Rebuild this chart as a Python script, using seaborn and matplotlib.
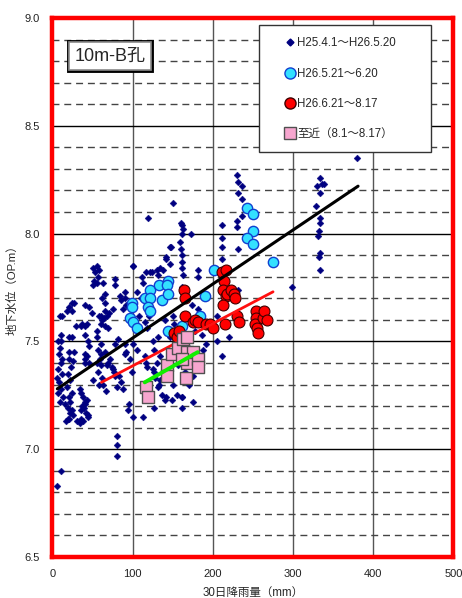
import numpy as np
import pandas as pd
import matplotlib

matplotlib.use("Agg")
import matplotlib.pyplot as plt
import seaborn as sns
from matplotlib.lines import Line2D
from matplotlib.patches import Rectangle
from matplotlib.ticker import MultipleLocator

# H25.4.1～H26.5.20 (navy diamonds)
navy_x = [6, 10, 80, 80, 80, 94, 101, 113, 127, 140, 149, 161,
          17, 19, 21, 22, 24, 26, 31, 34, 36, 38, 39, 41, 43, 44,
          7, 9, 8, 10, 7, 12, 8, 11, 7, 13, 9, 6, 12, 10, 9, 12, 18, 20, 24, 27, 24,
          20, 21, 23, 19, 22, 18, 24, 20, 22, 16, 19, 20, 24, 10, 25, 27,
          29, 35, 41, 37, 43, 40, 45, 49, 41, 44, 46, 43, 45, 40, 40, 40,
          34, 36, 38, 40, 37, 35, 42, 44,
          50, 53, 55, 57, 58, 52, 50, 56, 63, 66, 66, 62, 70, 66, 60, 62, 60, 66, 64, 69,
          55, 58, 68, 55, 60, 57, 61, 59, 55, 60, 68, 57, 62, 58, 63, 67, 50, 66, 72, 75, 69,
          78, 78, 75, 84, 86, 90, 90, 88, 92, 78, 82, 90, 90, 92, 97, 74, 77, 78, 81, 83,
          86, 88, 95, 99, 100, 105, 100, 101,
          111, 113, 116, 119, 121, 124, 130, 131, 134, 138, 142, 146, 146, 148, 150, 142,
          115, 118, 115, 117, 118, 125, 128, 133, 132, 125, 127, 134, 130, 127, 134, 132,
          136, 142, 144, 144, 155, 162, 161, 159, 160, 161, 162, 163, 162, 163, 161, 160,
          162, 161, 162,
          173, 175, 174, 181, 181, 181, 186, 188, 192, 199, 211, 211, 211, 211, 211,
          230, 231, 231, 230, 230, 236, 236, 236, 231, 231,
          299, 329, 333, 336, 339, 334, 334, 334, 332, 331, 333, 332, 334, 380, 330,
          205, 215, 220, 225, 205, 195, 178, 170, 168, 152, 150, 140, 146, 156, 165, 170,
          175, 185, 150, 145, 120, 108, 104, 110, 106]
navy_y = [6.83, 6.90, 7.06, 7.02, 6.97, 7.18, 7.15, 7.15, 7.19, 7.23, 7.23, 7.24,
          7.13, 7.14, 7.14, 7.17, 7.18, 7.16, 7.13, 7.12, 7.14, 7.13, 7.19, 7.21, 7.23, 7.15,
          7.50, 7.47, 7.44, 7.40, 7.37, 7.35, 7.31, 7.28, 7.26, 7.24, 7.22, 7.33, 7.42, 7.53,
          7.62, 7.62, 7.64, 7.66, 7.68, 7.68, 7.64,
          7.45, 7.42, 7.38, 7.35, 7.32, 7.29, 7.26, 7.24, 7.22, 7.21, 7.19, 7.52, 7.52, 7.50,
          7.41, 7.45,
          7.57, 7.57, 7.57, 7.58, 7.58, 7.67, 7.66, 7.63, 7.53, 7.50, 7.48, 7.43, 7.40, 7.44,
          7.42, 7.40,
          7.28, 7.26, 7.24, 7.22, 7.20, 7.18, 7.17, 7.16,
          7.84, 7.82, 7.85, 7.80, 7.83, 7.78, 7.76, 7.77, 7.77, 7.72, 7.68, 7.70, 7.63, 7.64,
          7.62, 7.60, 7.58, 7.57, 7.61, 7.56,
          7.55, 7.62, 7.62, 7.52, 7.49, 7.46, 7.44, 7.42, 7.40, 7.39, 7.39, 7.36, 7.33, 7.30,
          7.30, 7.27, 7.32, 7.45, 7.42, 7.37, 7.40,
          7.79, 7.76, 7.65, 7.71, 7.69, 7.73, 7.70, 7.65, 7.67, 7.49, 7.51, 7.49, 7.44, 7.45,
          7.42, 7.38, 7.36, 7.34, 7.29, 7.34,
          7.31, 7.28, 7.21, 7.36, 7.49, 7.46, 7.85, 7.85,
          7.80, 7.77, 7.82, 8.07, 7.82, 7.82, 7.83, 7.81, 7.84, 7.83, 7.88, 7.86, 7.94, 7.94,
          8.14, 7.89,
          7.59, 7.56, 7.43, 7.40, 7.38, 7.37, 7.33, 7.30, 7.52, 7.50, 7.46, 7.43, 7.40, 7.36,
          7.32, 7.29,
          7.25, 7.24, 7.41, 7.38, 7.25, 7.24, 7.19, 7.96, 7.93, 7.87, 7.84, 7.81, 8.04, 8.02,
          8.00, 8.05,
          7.90, 7.75, 7.73,
          8.00, 7.22, 7.67, 7.65, 7.83, 7.80, 7.53, 7.46, 7.49, 7.56, 8.04, 7.98, 7.94, 7.88,
          7.43,
          8.27, 8.24, 8.19, 8.06, 8.03, 8.08, 8.22, 8.16, 7.93, 7.74,
          7.75, 8.13, 8.26, 8.23, 8.23, 8.19, 8.07, 8.05, 8.01, 7.99, 7.91, 7.89, 7.83, 8.35,
          8.22,
          7.62, 7.66, 7.52, 7.70, 7.50, 7.58, 7.55, 7.60, 7.48, 7.58, 7.62, 7.60, 7.52, 7.39,
          7.36, 7.30,
          7.34, 7.38, 7.30, 7.33, 7.62, 7.62, 7.58, 7.70, 7.73]

# H26.5.21～6.20 (cyan circles)
cyan_x = [99, 99, 97, 100, 105, 115, 121, 121, 119, 121, 133, 136, 144, 143, 144,
          144, 161, 184, 190, 202, 243, 250, 250, 243, 250, 275]
cyan_y = [7.68, 7.66, 7.61, 7.59, 7.56, 7.70, 7.74, 7.70, 7.66, 7.64, 7.76, 7.69, 7.78,
          7.76, 7.72, 7.55, 7.57, 7.62, 7.71, 7.83, 8.12, 8.09, 8.01, 7.98, 7.95, 7.87]

# H26.6.21～8.17 (red circles)
red_x = [152, 155, 158, 164, 165, 165, 175, 178, 181, 192, 196, 200, 211, 216, 214,
         212, 216, 213, 218, 215, 222, 226, 228, 230, 233, 254, 254, 253, 255, 262,
         264, 267, 256]
red_y = [7.54, 7.52, 7.55, 7.74, 7.70, 7.62, 7.59, 7.60, 7.59, 7.58, 7.58, 7.56, 7.82,
         7.83, 7.78, 7.74, 7.71, 7.67, 7.72, 7.58, 7.74, 7.72, 7.70, 7.62, 7.59, 7.64,
         7.61, 7.58, 7.56, 7.61, 7.64, 7.60, 7.54]

# 至近 (8.1～8.17) (pink squares)
pink_x = [117, 119, 143, 143, 149, 156, 163, 168, 168, 168, 166, 175, 181, 181, 161]
pink_y = [7.29, 7.24, 7.39, 7.34, 7.44, 7.47, 7.51, 7.52, 7.45, 7.40, 7.33, 7.45,
          7.42, 7.38, 7.42]

# trend lines (end points)
trend_all_x, trend_all_y = [6, 381], [7.28, 8.22]
trend_red_x, trend_red_y = [61, 275], [7.31, 7.73]
trend_pink_x, trend_pink_y = [115, 181], [7.31, 7.45]

labels = ["H25.4.1～H26.5.20", "H26.5.21～6.20", "H26.6.21～8.17", "至近（8.1～8.17）"]

sns.set_style("white")
plt.rcParams["font.family"] = ["Liberation Sans", "Noto Sans CJK JP", "DejaVu Sans"]

fig = plt.figure(figsize=(4.62, 5.98), dpi=100)
ax = fig.add_axes([0.1136, 0.0686, 0.868, 0.9013])

navy = pd.DataFrame({"x": navy_x, "y": navy_y})
cyan = pd.DataFrame({"x": cyan_x, "y": cyan_y})
red = pd.DataFrame({"x": red_x, "y": red_y})
pink = pd.DataFrame({"x": pink_x, "y": pink_y})

sns.scatterplot(data=navy, x="x", y="y", ax=ax, marker="D", s=12, color="#000080",
                edgecolor="#000080", linewidth=0.3, zorder=3)
sns.scatterplot(data=cyan, x="x", y="y", ax=ax, marker="o", s=55, color="#33e0ff",
                edgecolor="#1040d0", linewidth=1.0, zorder=4)
sns.scatterplot(data=red, x="x", y="y", ax=ax, marker="o", s=62, color="#ff0000",
                edgecolor="#400000", linewidth=0.8, zorder=4)
sns.lineplot(x=trend_all_x, y=trend_all_y, ax=ax, color="black", linewidth=2.2, zorder=5)
sns.lineplot(x=trend_red_x, y=trend_red_y, ax=ax, color="#ff1010", linewidth=2.0, zorder=5)
sns.scatterplot(data=pink, x="x", y="y", ax=ax, marker="s", s=85, color="#f7a6cf",
                edgecolor="#505050", linewidth=1.0, zorder=6)
sns.lineplot(x=trend_pink_x, y=trend_pink_y, ax=ax, color="#11ee00", linewidth=2.8, zorder=7)

ax.set_xlim(0, 500)
ax.set_ylim(6.5, 9.0)
ax.xaxis.set_major_locator(MultipleLocator(100))
ax.yaxis.set_major_locator(MultipleLocator(0.5))
ax.yaxis.set_minor_locator(MultipleLocator(0.1))
ax.yaxis.set_major_formatter(matplotlib.ticker.FormatStrFormatter("%.1f"))
ax.grid(which="major", axis="x", color="#555555", linewidth=1.0, linestyle="-")
ax.grid(which="major", axis="y", color="black", linewidth=1.0, linestyle="-")
ax.grid(which="minor", axis="y", color="#444444", linewidth=1.0, linestyle=(0, (5, 3.5)))
ax.set_axisbelow(True)
ax.tick_params(which="both", length=0, labelsize=8, pad=9, colors="#222222")

for sp in ax.spines.values():
    sp.set_color("red")
    sp.set_linewidth(3.2)
    sp.set_visible(True)

ax.set_xlabel("30日降雨量（mm）", fontsize=8.3, labelpad=5)
ax.set_ylabel("地下水位（OP.m）", fontsize=8.2, labelpad=5)

# 孔名
for ec, lw in [("black", 3.5), ("#8a8a8a", 1.2)]:
    ax.text(0.143, 0.9295, "10m-B孔", transform=ax.transAxes, fontsize=13,
            ha="center", va="center", zorder=8,
            bbox=dict(boxstyle="square,pad=0.3", fc="white", ec=ec, lw=lw))

# legend box
ax.add_patch(Rectangle((0.516, 0.751), 0.428, 0.236, transform=ax.transAxes,
                       facecolor="white", edgecolor="#333333", linewidth=1.0, zorder=8))
handles = [
    Line2D([], [], marker="D", ls="", markersize=3.5, color="#000080"),
    Line2D([], [], marker="o", ls="", markersize=8, markerfacecolor="#33e0ff",
           markeredgecolor="#1040d0"),
    Line2D([], [], marker="o", ls="", markersize=8, markerfacecolor="#ff0000",
           markeredgecolor="#400000"),
    Line2D([], [], marker="s", ls="", markersize=8, markerfacecolor="#f7a6cf",
           markeredgecolor="#505050"),
]
leg = ax.legend(handles, labels, loc="upper left", bbox_to_anchor=(0.57, 0.973),
                frameon=False, fontsize=8.3, handlelength=0.8, handletextpad=0.2,
                labelspacing=1.6, borderaxespad=0)
leg.set_zorder(9)

fig.savefig("out.png", dpi=100)
plt.close(fig)
